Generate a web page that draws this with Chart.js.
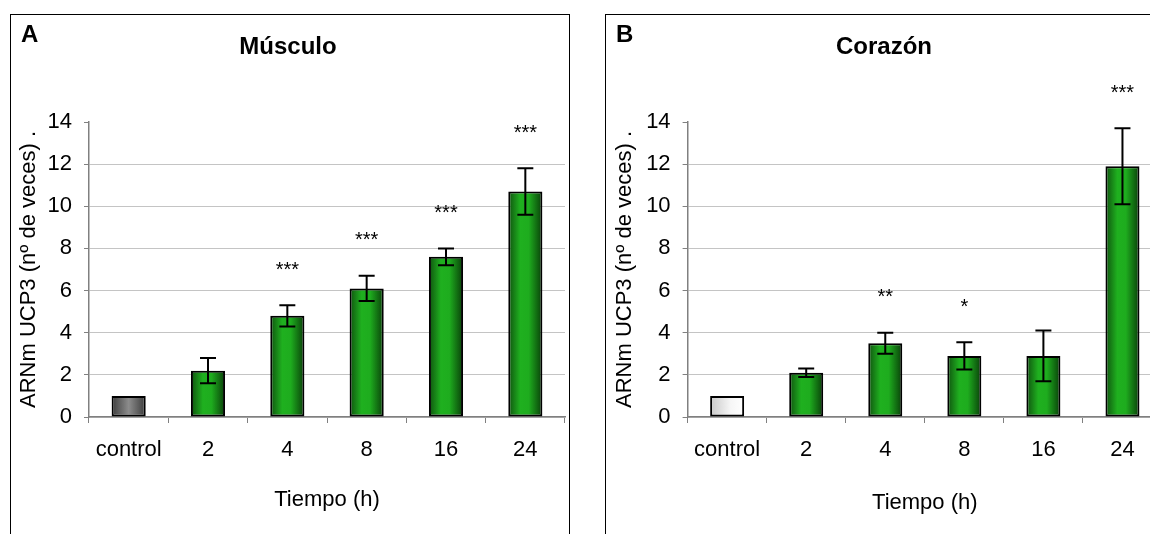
<!DOCTYPE html>
<html>
<head>
<meta charset="utf-8">
<script src="https://cdn.jsdelivr.net/npm/chart.js@4.4.1/dist/chart.umd.min.js"></script>
<style>
  html, body { margin: 0; padding: 0; background: #fff; }
  body { width: 1150px; height: 534px; overflow: hidden; position: relative; }
  .panel {
    position: absolute; top: 14px; width: 558px; height: 530px;
    border: 1px solid #000; border-bottom: none;
  }
  #panelA { left: 10px; }
  #panelB { left: 605px; }
  canvas { display: block; }
</style>
</head>
<body>
<div class="panel" id="panelA"><canvas id="musculo" width="558" height="519"></canvas></div>
<div class="panel" id="panelB"><canvas id="corazon" width="558" height="519"></canvas></div>
<script>
const categories = ['control', '2', '4', '8', '16', '24'];

const musculoMeans = [1.0, 2.2, 4.8, 6.1, 7.6, 10.7];
const musculoErrors = [0, 0.6, 0.5, 0.6, 0.4, 1.1];
const musculoStars = ['', '', '***', '***', '***', '***'];

const corazonMeans = [1.0, 2.1, 3.5, 2.9, 2.9, 11.9];
const corazonErrors = [0, 0.2, 0.5, 0.65, 1.2, 1.8];
const corazonStars = ['', '', '**', '*', '', '***'];

const yMin = 0;
const yMax = 14;
const yStep = 2;

const FONT = "'Liberation Sans', Arial, sans-serif";
const BAR_FRACTION = 0.43;
const STAR_GAP = 35;

const greenStops = [[0, '#0f520f'], [0.35, '#1fb01f'], [0.6, '#1eac1e'], [1, '#093f09']];
const grayStops = [[0, '#3c3c3c'], [0.5, '#8c8c8c'], [1, '#3a3a3a']];
const whiteStops = [[0, '#c8c8c8'], [0.6, '#f6f6f6'], [1, '#ffffff']];

function barGradient(ctx, controlStops) {
    const chart = ctx.chart;
    const xScale = chart.scales.x;
    const stops = ctx.dataIndex === 0 ? controlStops : greenStops;
    if (!xScale || ctx.dataIndex === undefined) return stops[1][1];
    const cx = xScale.getPixelForValue(ctx.dataIndex);
    const w = (xScale.width / categories.length) * BAR_FRACTION;
    if (!isFinite(cx) || !isFinite(w) || w <= 0) return stops[1][1];
    const g = chart.ctx.createLinearGradient(cx - w / 2, 0, cx + w / 2, 0);
    stops.forEach(s => g.addColorStop(s[0], s[1]));
    return g;
}

// error bars, significance stars and panel letter
const extrasPlugin = {
    id: 'extras',
    afterDatasetsDraw(chart, args, opts) {
        const c = chart.ctx;
        const yScale = chart.scales.y;
        const meta = chart.getDatasetMeta(0);
        c.save();
        c.strokeStyle = '#000';
        c.lineWidth = 2;
        c.fillStyle = '#000';
        meta.data.forEach((bar, i) => {
            const m = opts.means[i];
            const e = opts.errors[i];
            const top = yScale.getPixelForValue(m + e);
            if (e > 0) {
                const bottom = yScale.getPixelForValue(m - e);
                c.beginPath();
                c.moveTo(bar.x, top);
                c.lineTo(bar.x, bottom);
                c.moveTo(bar.x - 8, top);
                c.lineTo(bar.x + 8, top);
                c.moveTo(bar.x - 8, bottom);
                c.lineTo(bar.x + 8, bottom);
                c.stroke();
            }
            if (opts.stars[i]) {
                c.font = '20px ' + FONT;
                c.textAlign = 'center';
                c.textBaseline = 'middle';
                c.fillText(opts.stars[i], bar.x, top - STAR_GAP);
            }
        });
        c.font = 'bold 24px ' + FONT;
        c.textAlign = 'left';
        c.textBaseline = 'middle';
        c.fillText(opts.letter, opts.letterX, 20);
        c.restore();
    }
};

function makeChart(canvasId, title, letter, means, errors, stars, controlStops, axisWidth, yTitlePad, xTitlePad, rightPad) {
    const ctx = document.getElementById(canvasId).getContext('2d');
    return new Chart(ctx, {
        type: 'bar',
        data: {
            labels: categories,
            datasets: [{
                data: means,
                backgroundColor: (c) => barGradient(c, controlStops),
                borderColor: '#000',
                borderWidth: 2,
                borderSkipped: false,
                categoryPercentage: 1,
                barPercentage: BAR_FRACTION
            }]
        },
        options: {
            responsive: false,
            animation: false,
            layout: { padding: { left: 0, right: rightPad, top: 0, bottom: 0 } },
            plugins: {
                legend: { display: false },
                tooltip: { enabled: false },
                title: {
                    display: true,
                    text: title,
                    color: '#000',
                    font: { family: FONT, size: 24, weight: 'bold' },
                    padding: { top: 17.6, bottom: 60.6 }
                },
                extras: { means: means, errors: errors, stars: stars, letter: letter, letterX: 10 }
            },
            scales: {
                x: {
                    grid: {
                        display: true,
                        drawOnChartArea: false,
                        drawTicks: true,
                        tickLength: 6,
                        color: '#808080',
                        offset: true
                    },
                    border: { color: '#808080', width: 1.5 },
                    ticks: {
                        color: '#000',
                        font: { family: FONT, size: 22 },
                        padding: 14,
                        autoSkip: false,
                        maxRotation: 0
                    },
                    title: {
                        display: true,
                        text: 'Tiempo (h)',
                        color: '#000',
                        font: { family: FONT, size: 22 },
                        padding: { top: xTitlePad, bottom: xTitlePad }
                    },
                    afterFit: (scale) => { scale.height = 117; }
                },
                y: {
                    min: yMin,
                    max: yMax,
                    grid: {
                        color: (c) => c.tick && c.tick.value === yMax ? 'rgba(0,0,0,0)' : '#c4c4c4',
                        tickColor: '#808080',
                        tickLength: 5
                    },
                    border: { color: '#808080', width: 1.5 },
                    ticks: {
                        stepSize: yStep,
                        color: '#000',
                        font: { family: FONT, size: 22 },
                        padding: 12
                    },
                    title: {
                        display: true,
                        text: 'ARNm UCP3 (nº de veces) .',
                        color: '#000',
                        font: { family: FONT, size: 22 },
                        padding: { top: yTitlePad, bottom: yTitlePad }
                    },
                    afterFit: (scale) => { scale.width = axisWidth; }
                }
            }
        },
        plugins: [extrasPlugin]
    });
}

makeChart('musculo', 'Músculo', 'A', musculoMeans, musculoErrors, musculoStars, grayStops, 78, 4.8, 21, 4);
makeChart('corazon', 'Corazón', 'B', corazonMeans, corazonErrors, corazonStars, whiteStops, 81.6, 5.8, 18, 2);
</script>
</body>
</html>
